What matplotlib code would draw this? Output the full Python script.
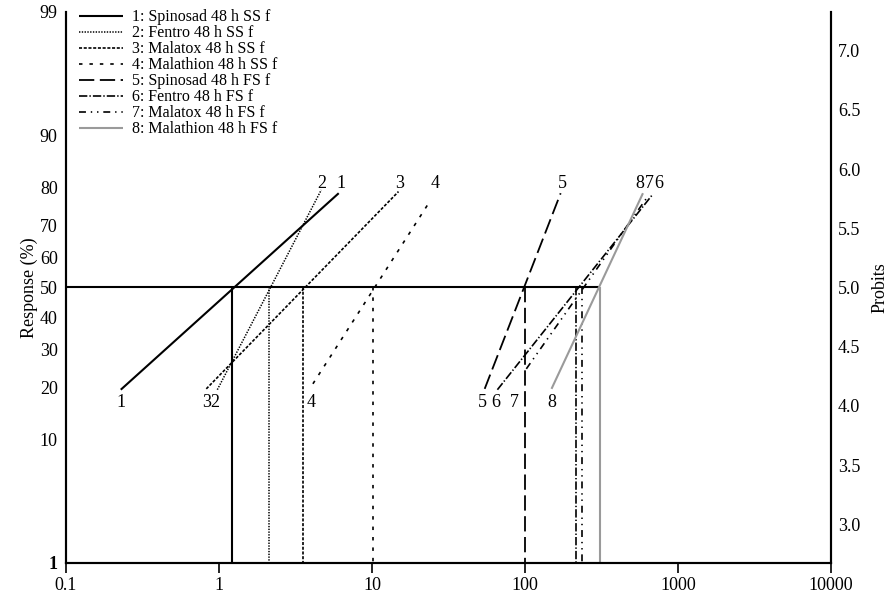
"""
Probit regression lines (dose-response) for 8 insecticide treatments,
log dose on x, probit-scaled response on the left, probits on the right.
"""
from statistics import NormalDist
import matplotlib
matplotlib.use('Agg')
import matplotlib.pyplot as plt
from matplotlib.lines import Line2D

plt.rcParams['font.family'] = ['Liberation Serif', 'DejaVu Serif']
plt.rcParams['lines.scale_dashes'] = False

SERIES_NAMES = ['Spinosad 48 h SS f', 'Fentro 48 h SS f', 'Malatox 48 h SS f',
                'Malathion 48 h SS f', 'Spinosad 48 h FS f', 'Fentro 48 h FS f',
                'Malatox 48 h FS f', 'Malathion 48 h FS f']
# LC50 (dose at 50 % response)
LC50 = [1.22, 2.12, 3.56, 10.1, 99.5, 214, 236, 308]
# end points of each regression line: dose and response (%)
DOSE_LOW = [0.228, 0.975, 0.826, 4.11, 54.5, 66, 102, 149]
DOSE_HIGH = [6.06, 4.66, 14.9, 24.2, 171, 676, 643, 590]
RESP_LOW = [19.4, 19.4, 19.6, 20.8, 19.6, 19.4, 24.6, 19.6]
RESP_HIGH = [78.7, 79.5, 79.1, 77.0, 78.7, 78.2, 78.2, 78.7]

RESP_TICKS = [1, 10, 20, 30, 40, 50, 60, 70, 80, 90, 99]
PROBIT_TICKS = [3.0, 3.5, 4.0, 4.5, 5.0, 5.5, 6.0, 6.5, 7.0]
DOSE_TICKS = [0.1, 1, 10, 100, 1000, 10000]

# line styles: (colour, linewidth, dash pattern or None for solid)
STYLES = [
    ('black', 1.5, None),
    ('black', 1.1, (1, 1)),
    ('black', 1.2, (2.2, 1.2)),
    ('black', 1.2, (2.5, 5)),
    ('black', 1.3, (11, 4)),
    ('black', 1.2, (6, 1.5, 1, 1.5)),
    ('black', 1.2, (5, 3.5, 1, 3.5, 1, 3.5)),
    ('#9a9a9a', 1.5, None),
]
# small horizontal nudges (points) of the number labels
TOP_DX = [1.5, 0, 1, 3, 1.5, 5, 0.5, -2]
BOT_DX = [0, -1.5, 0, -1, -2, -1, -9, 0]
FS = 13


def probit(p):
    return 5 + NormalDist().inv_cdf(p / 100.0)


def line_kw(i):
    color, lw, dashes = STYLES[i]
    kw = dict(color=color, lw=lw, solid_capstyle='butt')
    if dashes is not None:
        kw['dashes'] = dashes
    return kw


def main():
    fig = plt.figure(figsize=(8.93, 5.96), dpi=100)
    ax = fig.add_axes([0.0739, 0.0554, 0.8567, 0.9245])
    ylo, yhi = probit(1), probit(99)

    ax.set_xscale('log')
    ax.set_xlim(0.1, 10000)
    ax.set_ylim(ylo, yhi)

    # 50 % reference line and drop lines at LC50
    ax.plot([0.1, max(LC50)], [5, 5], color='black', lw=1.5, solid_capstyle='butt')
    for i, lc in enumerate(LC50):
        ax.plot([lc, lc], [5, ylo], **line_kw(i))

    handles = []
    for i, name in enumerate(SERIES_NAMES):
        kw = line_kw(i)
        ax.plot([DOSE_LOW[i], DOSE_HIGH[i]],
                [probit(RESP_LOW[i]), probit(RESP_HIGH[i])], **kw)
        handles.append(Line2D([], [], **kw))
        ax.annotate(str(i + 1), (DOSE_HIGH[i], 5.88), xytext=(TOP_DX[i], 0),
                    textcoords='offset points', ha='center', va='center', fontsize=FS)
        ax.annotate(str(i + 1), (DOSE_LOW[i], 4.03), xytext=(BOT_DX[i], 0),
                    textcoords='offset points', ha='center', va='center', fontsize=FS)

    labels = [f'{i + 1}: {n}' for i, n in enumerate(SERIES_NAMES)]
    ax.legend(handles, labels, loc='upper left', bbox_to_anchor=(0.004, 1.022),
              frameon=False, fontsize=11.5, handlelength=2.8, handletextpad=0.55,
              labelspacing=0.0, borderaxespad=0.2)

    ax.set_xticks(DOSE_TICKS)
    ax.set_xticklabels(['0.1', '1', '10', '100', '1000', '10000'])
    ax.minorticks_off()
    ax.tick_params(axis='x', direction='out', length=7, width=1.2, labelsize=FS, pad=3)

    ax.set_yticks([probit(p) for p in RESP_TICKS])
    ax.set_yticklabels([str(p) for p in RESP_TICKS])
    ax.tick_params(axis='y', length=0, labelsize=FS, pad=6)
    ax.get_yticklabels()[0].set_fontweight('bold')
    ax.set_ylabel('Response (%)', fontsize=FS, labelpad=1)

    ax2 = ax.twinx()
    ax2.set_ylim(ylo, yhi)
    ax2.set_yticks(PROBIT_TICKS)
    ax2.set_yticklabels([f'{v:.1f}' for v in PROBIT_TICKS])
    ax2.tick_params(axis='y', length=0, labelsize=FS, pad=5)
    ax2.set_ylabel('Probits', fontsize=FS, labelpad=8)

    for a in (ax, ax2):
        a.spines['top'].set_visible(False)
        for s in ('left', 'right', 'bottom'):
            a.spines[s].set_linewidth(1.5)

    fig.savefig('out.png', dpi=100)
    plt.close(fig)


if __name__ == '__main__':
    main()
